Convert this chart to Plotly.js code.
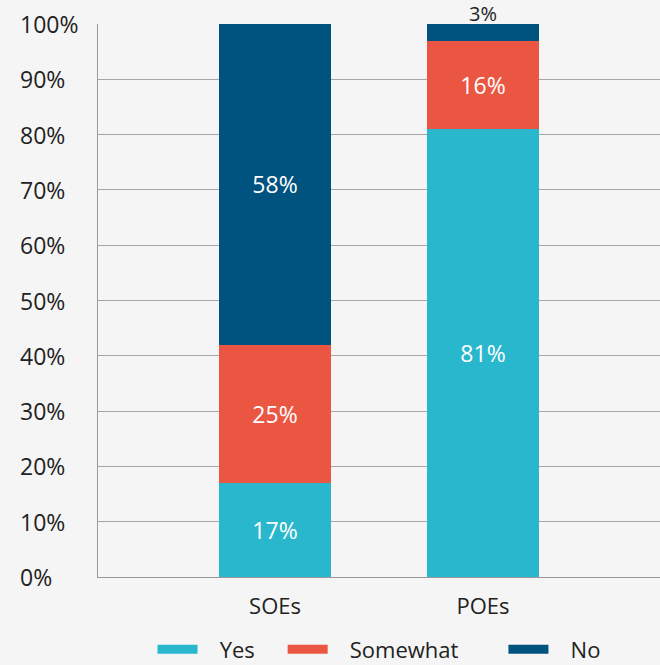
<!DOCTYPE html>
<html>
<head>
<meta charset="utf-8">
<script src="https://cdn.plot.ly/plotly-3.0.1.min.js"></script>
<style>
  html, body { margin: 0; padding: 0; background: #f5f5f5; }
  #chart { width: 660px; height: 665px; }
</style>
</head>
<body>
<div id="chart"></div>
<script>
// Share of respondents by enterprise type
const categories = ['SOEs', 'POEs'];
const yesValues = [17, 81];
const somewhatValues = [25, 16];
const noValues = [58, 3];
const seriesNames = ['Yes', 'Somewhat', 'No'];
const seriesColors = ['#29b7cd', '#eb5643', '#00527f'];
const yTickValues = [0, 10, 20, 30, 40, 50, 60, 70, 80, 90, 100];
const yTickLabels = yTickValues.map(v => v + '%');

const FONT = 'Open Sans, Noto Sans, sans-serif';
const seriesValues = [yesValues, somewhatValues, noValues];
const SMALL = 8; // segments thinner than this get their label above the stack

const barTraces = seriesValues.map((vals, i) => ({
  type: 'bar',
  name: seriesNames[i],
  x: categories,
  y: vals,
  width: 0.54,
  marker: { color: seriesColors[i], line: { width: 0 } },
  text: vals.map(v => v + '%'),
  texttemplate: '%{text}',
  textposition: vals.map(v => (v < SMALL ? 'none' : 'inside')),
  insidetextanchor: 'middle',
  insidetextfont: { family: FONT, size: 23, color: '#ffffff' },
  showlegend: false,
  hoverinfo: 'skip'
}));

// Labels for thin top segments, placed just above the stack
const stackTotals = categories.map((c, k) => seriesValues.reduce((s, vals) => s + vals[k], 0));
const outsideLabels = [];
categories.forEach((c, k) => {
  const top = noValues[k];
  if (top < SMALL) {
    outsideLabels.push({
      xref: 'x', yref: 'y',
      x: c, y: stackTotals[k],
      xanchor: 'center', yanchor: 'bottom',
      yshift: -5,
      text: top + '%',
      showarrow: false,
      font: { family: FONT, size: 20, color: '#222222' }
    });
  }
});

// Legend entries drawn as thick line swatches, spaced with non-breaking padding
const NB = '\u00a0';
const legendPadAfter = [4, 7, 0];
const legendTraces = seriesNames.map((name, i) => ({
  type: 'scatter',
  mode: 'lines',
  name: NB.repeat(3) + name + NB.repeat(legendPadAfter[i]),
  x: [null],
  y: [null],
  line: { color: seriesColors[i], width: 9 },
  showlegend: true,
  hoverinfo: 'skip'
}));

// Left-aligned y tick labels
const tickAnnotations = yTickValues.map((v, i) => ({
  xref: 'paper', yref: 'y',
  x: -0.1423, y: v,
  xanchor: 'left', yanchor: 'middle',
  text: yTickLabels[i],
  showarrow: false,
  font: { family: FONT, size: 23, color: '#222222' }
}));

const layout = {
  width: 660,
  height: 665,
  margin: { l: 98, r: 0, t: 24, b: 88, autoexpand: false },
  paper_bgcolor: '#f5f5f5',
  plot_bgcolor: '#f5f5f5',
  barmode: 'stack',
  font: { family: FONT, color: '#222222' },
  xaxis: {
    type: 'category',
    range: [-0.851, 1.851],
    showline: true,
    linecolor: '#999999',
    linewidth: 1,
    showgrid: false,
    zeroline: false,
    ticks: '',
    tickfont: { family: FONT, size: 22, color: '#222222' },
    ticklabelstandoff: 10,
    fixedrange: true
  },
  yaxis: {
    range: [0, 100],
    tickvals: yTickValues,
    showticklabels: false,
    showgrid: true,
    gridcolor: '#a6a6a6',
    gridwidth: 1,
    showline: true,
    linecolor: '#999999',
    linewidth: 1,
    zeroline: false,
    ticks: '',
    fixedrange: true
  },
  legend: {
    orientation: 'h',
    x: 0.5,
    xanchor: 'center',
    y: -0.1312,
    yanchor: 'middle',
    font: { family: FONT, size: 22, color: '#222222' },
    itemwidth: 40,
    bgcolor: 'rgba(0,0,0,0)',
    traceorder: 'normal'
  },
  annotations: [...tickAnnotations, ...outsideLabels],
  showlegend: true
};

Plotly.newPlot('chart', [...barTraces, ...legendTraces], layout, { displayModeBar: false, staticPlot: true });
</script>
</body>
</html>
